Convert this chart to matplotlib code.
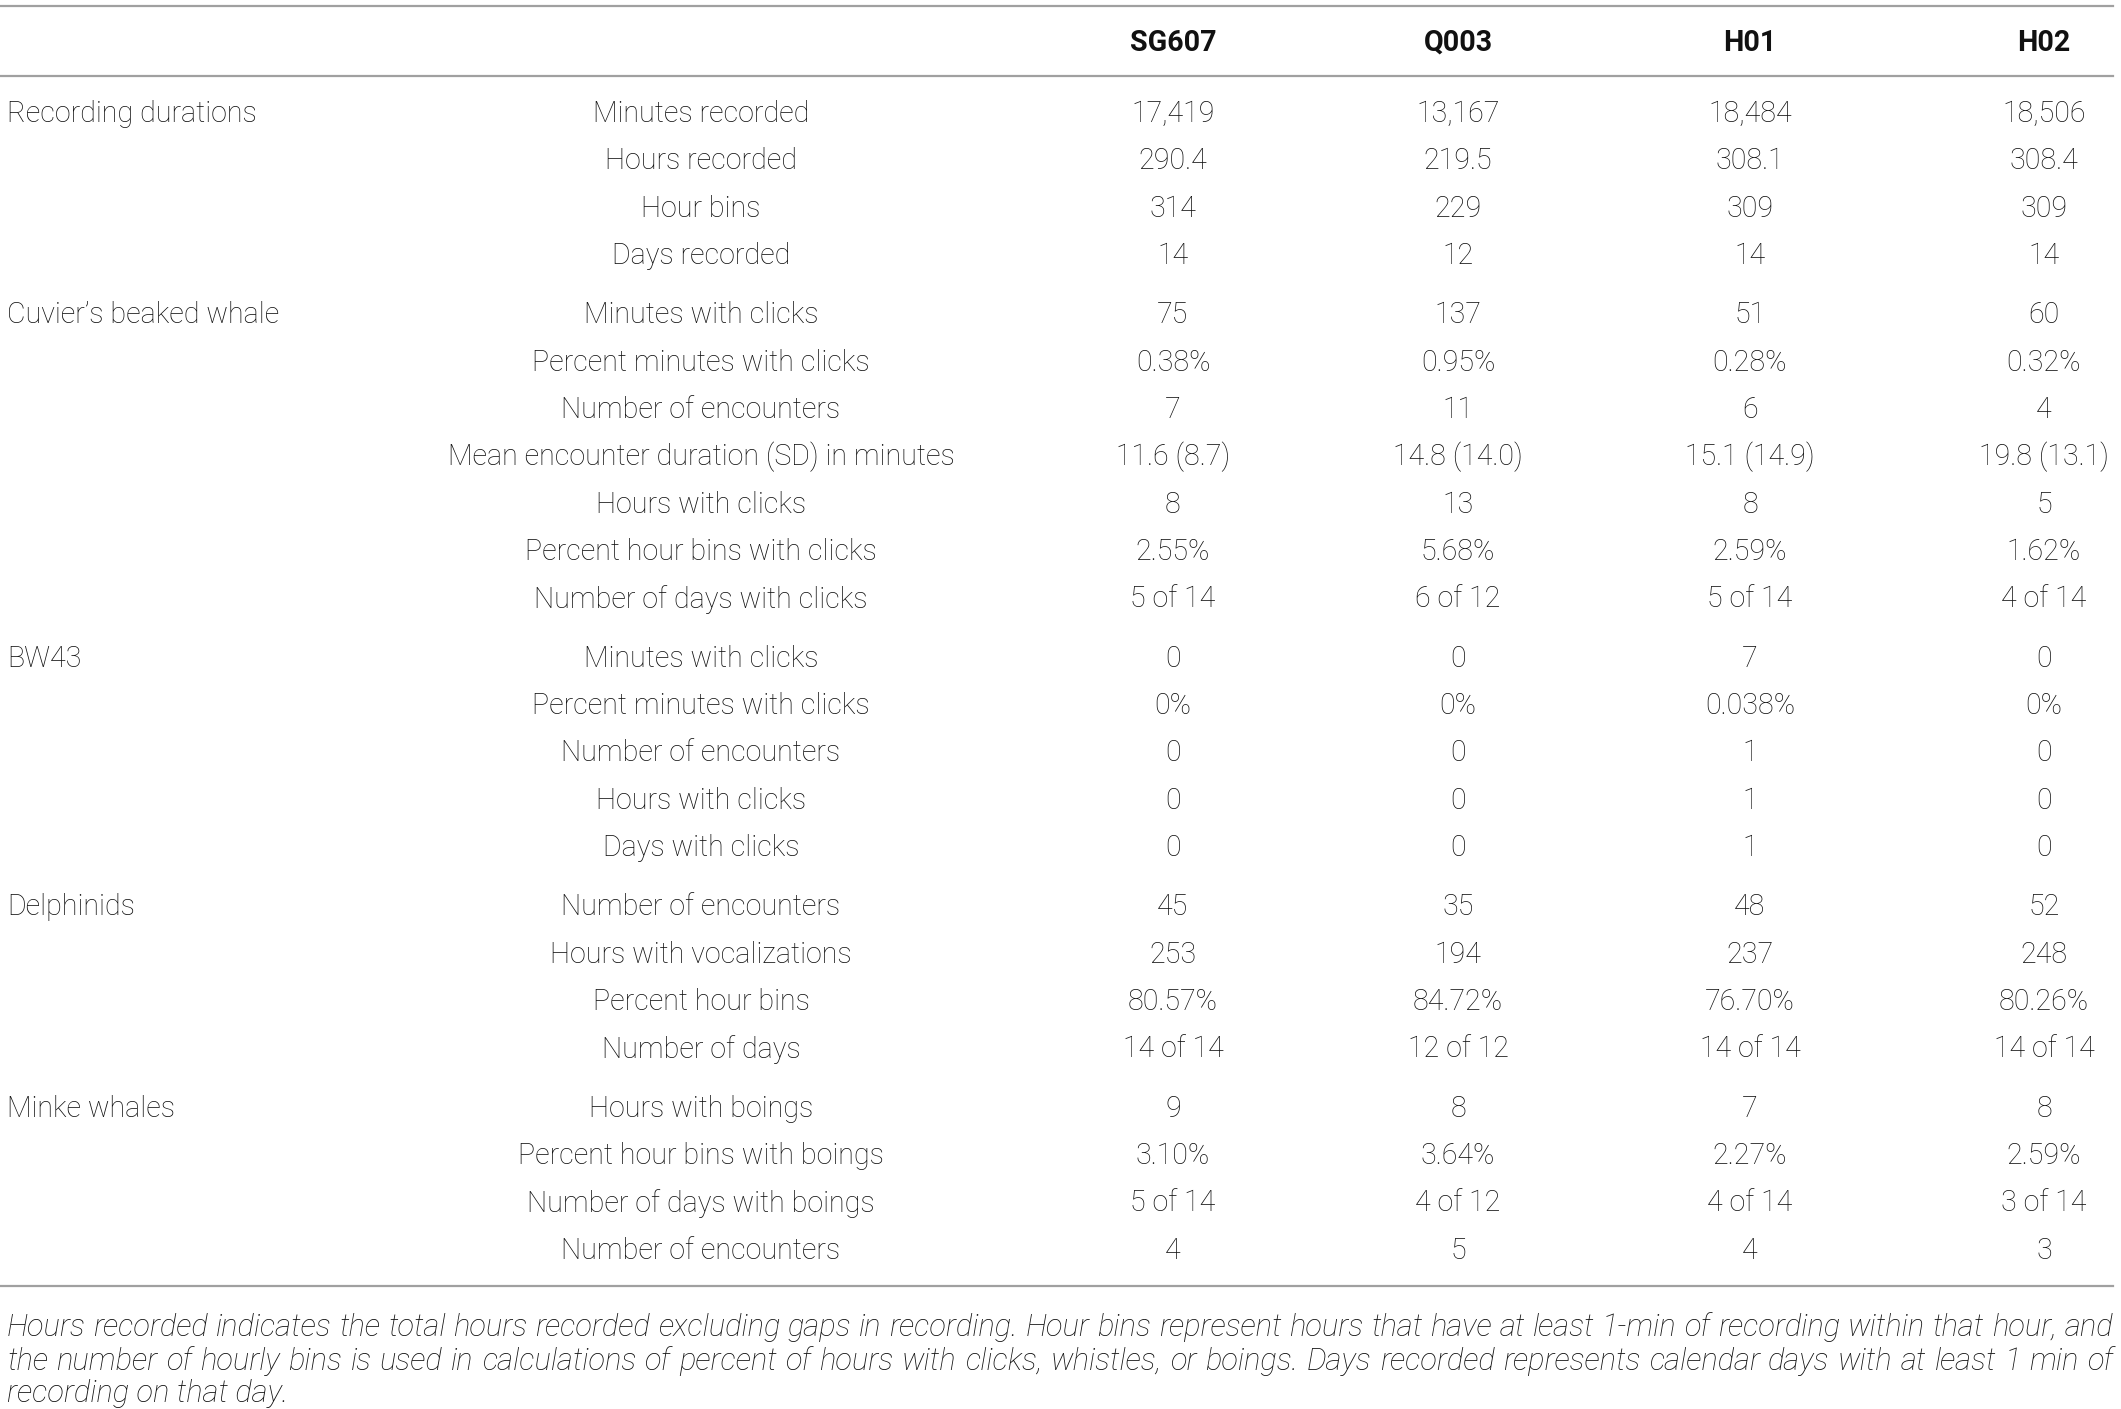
import matplotlib
matplotlib.use("Agg")
import matplotlib.pyplot as plt

# Stations (column headers)
sites = ["SG607", "Q003", "H01", "H02"]

# Groups of rows: (group name, row labels)
groups = ["Recording durations", "Cuvier’s beaked whale", "BW43", "Delphinids", "Minke whales"]

rec_rows = ["Minutes recorded", "Hours recorded", "Hour bins", "Days recorded"]
rec_vals = [
    ["17,419", "13,167", "18,484", "18,506"],
    ["290.4", "219.5", "308.1", "308.4"],
    ["314", "229", "309", "309"],
    ["14", "12", "14", "14"],
]

cuv_rows = ["Minutes with clicks", "Percent minutes with clicks", "Number of encounters",
            "Mean encounter duration (SD) in minutes", "Hours with clicks",
            "Percent hour bins with clicks", "Number of days with clicks"]
cuv_vals = [
    ["75", "137", "51", "60"],
    ["0.38%", "0.95%", "0.28%", "0.32%"],
    ["7", "11", "6", "4"],
    ["11.6 (8.7)", "14.8 (14.0)", "15.1 (14.9)", "19.8 (13.1)"],
    ["8", "13", "8", "5"],
    ["2.55%", "5.68%", "2.59%", "1.62%"],
    ["5 of 14", "6 of 12", "5 of 14", "4 of 14"],
]

bw_rows = ["Minutes with clicks", "Percent minutes with clicks", "Number of encounters",
           "Hours with clicks", "Days with clicks"]
bw_vals = [
    ["0", "0", "7", "0"],
    ["0%", "0%", "0.038%", "0%"],
    ["0", "0", "1", "0"],
    ["0", "0", "1", "0"],
    ["0", "0", "1", "0"],
]

del_rows = ["Number of encounters", "Hours with vocalizations", "Percent hour bins", "Number of days"]
del_vals = [
    ["45", "35", "48", "52"],
    ["253", "194", "237", "248"],
    ["80.57%", "84.72%", "76.70%", "80.26%"],
    ["14 of 14", "12 of 12", "14 of 14", "14 of 14"],
]

mink_rows = ["Hours with boings", "Percent hour bins with boings", "Number of days with boings",
             "Number of encounters"]
mink_vals = [
    ["9", "8", "7", "8"],
    ["3.10%", "3.64%", "2.27%", "2.59%"],
    ["5 of 14", "4 of 12", "4 of 14", "3 of 14"],
    ["4", "5", "4", "3"],
]

footnote = [
    "Hours recorded indicates the total hours recorded excluding gaps in recording. Hour bins represent hours that have at least 1-min of recording within that hour, and",
    "the number of hourly bins is used in calculations of percent of hours with clicks, whistles, or boings. Days recorded represents calendar days with at least 1 min of",
    "recording on that day.",
]

W, H = 2121, 1409
fig = plt.figure(figsize=(W / 100, H / 100), dpi=100)
ax = fig.add_axes([0, 0, 1, 1])
ax.set_xlim(0, W)
ax.set_ylim(H, 0)
ax.axis("off")

txt_color = "#111111"
line_color = "#a0a0a0"
fam = ["Roboto", "DejaVu Sans"]
fs = 20.6
wt = "light"

x_group = 7
x_label = 701
x_sites = [1173, 1458, 1750, 2044]

# rules
ax.plot([0, 2113], [6, 6], color=line_color, lw=1.6)
ax.plot([0, 2113], [76, 76], color=line_color, lw=1.6)
ax.plot([0, 2113], [1286, 1286], color=line_color, lw=1.6)

for xs, s in zip(x_sites, sites):
    ax.text(xs, 43, s, ha="center", va="center", fontsize=fs, fontweight="bold",
            family=fam, color=txt_color)

blocks = [(rec_rows, rec_vals), (cuv_rows, cuv_vals), (bw_rows, bw_vals),
          (del_rows, del_vals), (mink_rows, mink_vals)]

y = 114
step = 47.3
gap = 12.2
for g, (rows, vals) in zip(groups, blocks):
    ax.text(x_group, y, g, ha="left", va="center", fontsize=fs, family=fam,
            fontweight=wt, color=txt_color)
    for r, v in zip(rows, vals):
        ax.text(x_label, y, r, ha="center", va="center", fontsize=fs, family=fam,
                fontweight=wt, color=txt_color)
        for xs, s in zip(x_sites, v):
            ax.text(xs, y, s, ha="center", va="center", fontsize=fs, family=fam,
                    fontweight=wt, color=txt_color)
        y += step
    y += gap

# footnote, justified to full width except for last line
fig.canvas.draw()
renderer = fig.canvas.get_renderer()
inv = ax.transData.inverted()
fn_y = [1327, 1361, 1393]
x_right = 2113


def width_of(t):
    bb = t.get_window_extent(renderer)
    return inv.transform((bb.x1, 0))[0] - inv.transform((bb.x0, 0))[0]


# pick the footnote size so that the first line fills the width at natural spacing
probe = ax.text(0, 0, footnote[0], fontsize=17, style="italic", family=fam, fontweight=wt)
fn_fs = 17 * (x_right - x_group) / width_of(probe) * 0.995
probe.remove()

for i, (line, ly) in enumerate(zip(footnote, fn_y)):
    if i == len(footnote) - 1:
        ax.text(x_group, ly, line, ha="left", va="center", fontsize=fn_fs, style="italic",
                family=fam, fontweight=wt, color=txt_color)
        continue
    words = line.split(" ")
    arts = []
    widths = []
    for w in words:
        t = ax.text(0, ly, w, ha="left", va="center", fontsize=fn_fs, style="italic",
                    family=fam, fontweight=wt, color=txt_color)
        arts.append(t)
        widths.append(width_of(t))
    space = (x_right - x_group - sum(widths)) / (len(words) - 1)
    xc = x_group
    for t, wd in zip(arts, widths):
        t.set_x(xc)
        xc += wd + space

fig.savefig("out.png", dpi=100, facecolor="white")
